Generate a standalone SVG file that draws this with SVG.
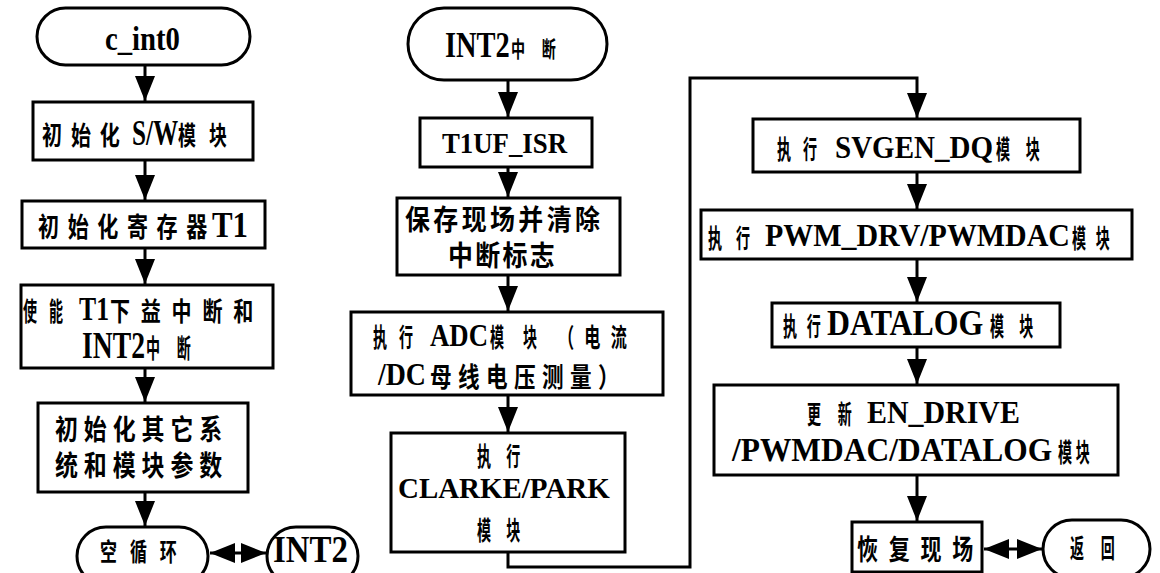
<svg xmlns="http://www.w3.org/2000/svg" width="1160" height="573" viewBox="0 0 1160 573">
<style>
.b{fill:#fff;stroke:#000;stroke-width:3}
.c{fill:none;stroke:#000;stroke-width:3}
.L{font-family:"Liberation Serif","Times New Roman",serif;font-weight:bold;fill:#000}
.C{font-family:"Liberation Serif","Noto Sans CJK SC","Noto Sans CJK JP",sans-serif;font-weight:bold;fill:#000}
</style>
<defs>
<marker id="a" markerUnits="userSpaceOnUse" markerWidth="26" markerHeight="20" viewBox="0 0 26 20" refX="25" refY="10" orient="auto">
<path d="M0,0 L25,10 L0,20 Z" fill="#000"/>
</marker>
<marker id="s" markerUnits="userSpaceOnUse" markerWidth="26" markerHeight="20" viewBox="0 0 26 20" refX="1" refY="10" orient="auto">
<path d="M26,0 L1,10 L26,20 Z" fill="#000"/>
</marker>
</defs>
<rect width="1160" height="573" fill="#fff"/>
<g id="connectors">
<line class="c" x1="145" y1="65" x2="145" y2="101" marker-end="url(#a)"/>
<line class="c" x1="145" y1="160" x2="145" y2="200" marker-end="url(#a)"/>
<line class="c" x1="145" y1="248" x2="145" y2="284" marker-end="url(#a)"/>
<line class="c" x1="145" y1="368" x2="145" y2="402" marker-end="url(#a)"/>
<line class="c" x1="145" y1="492" x2="145" y2="526" marker-end="url(#a)"/>
<line class="c" x1="210" y1="553" x2="266" y2="553" marker-start="url(#s)" marker-end="url(#a)"/>
<line class="c" x1="508" y1="80" x2="508" y2="117" marker-end="url(#a)"/>
<line class="c" x1="508" y1="167" x2="508" y2="197" marker-end="url(#a)"/>
<line class="c" x1="508" y1="275" x2="508" y2="311" marker-end="url(#a)"/>
<line class="c" x1="508" y1="395" x2="508" y2="432" marker-end="url(#a)"/>
<polyline class="c" points="508,552 508,567 690,567 690,78 917,78 917,118" marker-end="url(#a)"/>
<line class="c" x1="917" y1="172" x2="917" y2="209" marker-end="url(#a)"/>
<line class="c" x1="917" y1="259" x2="917" y2="302" marker-end="url(#a)"/>
<line class="c" x1="917" y1="347" x2="917" y2="384" marker-end="url(#a)"/>
<line class="c" x1="917" y1="475" x2="917" y2="521" marker-end="url(#a)"/>
<line class="c" x1="984" y1="549" x2="1042" y2="549" marker-start="url(#s)" marker-end="url(#a)"/>
</g>
<g id="n-cint0"><rect class="b" x="37" y="8" width="213" height="57" rx="28.5"/>
<text class="L" font-size="33" transform="translate(105,50) scale(0.87,1)">c_int0</text></g>
<g id="n-init-sw"><rect class="b" x="33" y="102" width="220" height="58"/>
<text class="C" font-size="26" transform="translate(42,145) scale(0.77,1)" textLength="101" lengthAdjust="spacing">初始化</text>
<text class="L" font-size="36" transform="translate(132,145) scale(0.7,1)">S/W</text>
<text class="C" font-size="26" transform="translate(178,145) scale(0.69,1)" textLength="71" lengthAdjust="spacing">模块</text></g>
<g id="n-init-reg"><rect class="b" x="22" y="201" width="243" height="47"/>
<text class="C" font-size="27" transform="translate(38,237) scale(0.78,1)" textLength="217" lengthAdjust="spacing">初始化寄存器</text>
<text class="L" font-size="36" transform="translate(212,237) scale(0.857,1)">T1</text></g>
<g id="n-enable"><rect class="b" x="21" y="285" width="252" height="83"/>
<text class="C" font-size="26" transform="translate(23,321) scale(0.54,1)" textLength="74" lengthAdjust="spacing">使能</text>
<text class="L" font-size="34" transform="translate(79,320) scale(0.756,1)">T1</text>
<text class="C" font-size="26" transform="translate(110,321) scale(0.77,1)" textLength="186" lengthAdjust="spacing">下益中断和</text>
<text class="L" font-size="37" transform="translate(82,358) scale(0.747,1)">INT2</text>
<text class="C" font-size="26" transform="translate(146,358) scale(0.54,1)" textLength="83" lengthAdjust="spacing">中断</text></g>
<g id="n-init-other"><rect class="b" x="38" y="403" width="210" height="89"/>
<text class="C" font-size="28" transform="translate(55,440) scale(0.82,1)" textLength="204" lengthAdjust="spacing">初始化其它系</text>
<text class="C" font-size="28" transform="translate(55,476) scale(0.82,1)" textLength="204" lengthAdjust="spacing">统和模块参数</text></g>
<g id="n-idle"><rect class="b" x="77" y="527" width="131" height="58" rx="29"/>
<text class="C" font-size="25" transform="translate(100,561) scale(0.68,1)" textLength="113" lengthAdjust="spacing">空循环</text></g>
<g id="n-int2"><rect class="b" x="267" y="527" width="91" height="58" rx="29"/>
<text class="L" font-size="38" transform="translate(273,562) scale(0.866,1)">INT2</text></g>
<g id="n-int2-isr"><rect class="b" x="408" y="8" width="199" height="72" rx="36"/>
<text class="L" font-size="36" transform="translate(445,57) scale(0.79,1)">INT2</text>
<text class="C" font-size="22" transform="translate(511,57) scale(0.64,1)" textLength="70" lengthAdjust="spacing">中断</text></g>
<g id="n-t1uf"><rect class="b" x="420" y="118" width="172" height="49"/>
<text class="L" font-size="30" transform="translate(442,153) scale(0.893,1)">T1UF_ISR</text></g>
<g id="n-save"><rect class="b" x="397" y="198" width="223" height="77"/>
<text class="C" font-size="28" transform="translate(405,230) scale(0.89,1)" textLength="219" lengthAdjust="spacing">保存现场并清除</text>
<text class="C" font-size="28" transform="translate(448,266) scale(0.89,1)" textLength="120" lengthAdjust="spacing">中断标志</text></g>
<g id="n-adc"><rect class="b" x="351" y="312" width="312" height="83"/>
<text class="C" font-size="26" transform="translate(373,347) scale(0.54,1)" textLength="74" lengthAdjust="spacing">执行</text>
<text class="L" font-size="32" transform="translate(430,346) scale(0.837,1)">ADC</text>
<text class="C" font-size="26" transform="translate(490,347) scale(0.54,1)" textLength="87" lengthAdjust="spacing">模块</text>
<text class="C" font-size="26" transform="translate(558,347) scale(0.62,1)" textLength="111" lengthAdjust="spacing">（电流</text>
<text class="L" font-size="32" transform="translate(378,385) scale(0.871,1)">/DC</text>
<text class="C" font-size="27" transform="translate(430,387) scale(0.8,1)" textLength="237" lengthAdjust="spacing">母线电压测量）</text></g>
<g id="n-clarke"><rect class="b" x="391" y="433" width="234" height="119"/>
<text class="C" font-size="26" transform="translate(477,466) scale(0.54,1)" textLength="80" lengthAdjust="spacing">执行</text>
<text class="L" font-size="30" transform="translate(398,498) scale(0.965,1)">CLARKE/PARK</text>
<text class="C" font-size="26" transform="translate(477,540) scale(0.54,1)" textLength="80" lengthAdjust="spacing">模块</text></g>
<g id="n-svgen"><rect class="b" x="753" y="119" width="327" height="53"/>
<text class="C" font-size="26" transform="translate(777,159) scale(0.54,1)" textLength="74" lengthAdjust="spacing">执行</text>
<text class="L" font-size="32" transform="translate(835,158) scale(0.907,1)">SVGEN_DQ</text>
<text class="C" font-size="26" transform="translate(996,159) scale(0.54,1)" textLength="81" lengthAdjust="spacing">模块</text></g>
<g id="n-pwm"><rect class="b" x="701" y="210" width="431" height="49"/>
<text class="C" font-size="26" transform="translate(708,248) scale(0.54,1)" textLength="78" lengthAdjust="spacing">执行</text>
<text class="L" font-size="32" transform="translate(765,246) scale(0.936,1)">PWM_DRV/PWMDAC</text>
<text class="C" font-size="26" transform="translate(1072,248) scale(0.54,1)" textLength="70" lengthAdjust="spacing">模块</text></g>
<g id="n-datalog"><rect class="b" x="772" y="303" width="288" height="44"/>
<text class="C" font-size="26" transform="translate(783,336) scale(0.54,1)" textLength="70" lengthAdjust="spacing">执行</text>
<text class="L" font-size="35" transform="translate(827,335) scale(0.91,1)">DATALOG</text>
<text class="C" font-size="26" transform="translate(990,336) scale(0.54,1)" textLength="80" lengthAdjust="spacing">模块</text></g>
<g id="n-update"><rect class="b" x="714" y="385" width="404" height="90"/>
<text class="C" font-size="26" transform="translate(807,424) scale(0.54,1)" textLength="83" lengthAdjust="spacing">更新</text>
<text class="L" font-size="32" transform="translate(867,423) scale(0.935,1)">EN_DRIVE</text>
<text class="L" font-size="34" transform="translate(732,461) scale(0.925,1)">/PWMDAC/DATALOG</text>
<text class="C" font-size="26" transform="translate(1058,462) scale(0.54,1)" textLength="59" lengthAdjust="spacing">模块</text></g>
<g id="n-restore"><rect class="b" x="852" y="522" width="130" height="50"/>
<text class="C" font-size="28" transform="translate(857,560) scale(0.75,1)" textLength="155" lengthAdjust="spacing">恢复现场</text></g>
<g id="n-return"><rect class="b" x="1043" y="520" width="107" height="58" rx="29"/>
<text class="C" font-size="26" transform="translate(1070,558) scale(0.54,1)" textLength="83" lengthAdjust="spacing">返回</text></g>
</svg>
